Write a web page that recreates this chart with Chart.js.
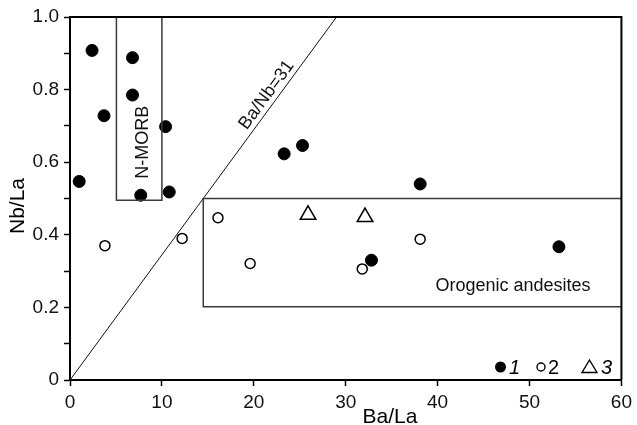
<!DOCTYPE html>
<html><head><meta charset="utf-8">
<script src="https://cdn.jsdelivr.net/npm/chart.js@4.4.0/dist/chart.umd.min.js"></script>
<style>html,body{margin:0;padding:0;background:#fff}</style>
</head><body>
<canvas id="c" width="637" height="425"></canvas>
<script>
// ---- data ----
const group1 = [ // filled circles
  {x:2.4,y:0.908},{x:3.7,y:0.728},{x:6.8,y:0.888},{x:6.8,y:0.785},
  {x:10.4,y:0.698},{x:1.0,y:0.547},{x:7.7,y:0.509},{x:10.8,y:0.518},
  {x:23.3,y:0.623},{x:25.3,y:0.646},{x:38.1,y:0.540},{x:32.8,y:0.330},
  {x:53.2,y:0.367}
];
const group2 = [ // open circles
  {x:3.8,y:0.370},{x:12.2,y:0.390},{x:16.1,y:0.447},{x:19.6,y:0.321},
  {x:31.8,y:0.306},{x:38.1,y:0.388}
];
const group3 = [ // triangles
  {x:25.9,y:0.455},{x:32.1,y:0.449}
];
const nmorbBox = [{x:5.05,y:1.0},{x:5.05,y:0.495},{x:10.0,y:0.495},{x:10.0,y:1.0}];
const orogenicBox = [{x:60,y:0.50},{x:14.5,y:0.50},{x:14.5,y:0.202},{x:60,y:0.202}];
const baNbLine = [{x:0,y:0},{x:29.0,y:1.0}];
const xTicks = [0,10,20,30,40,50,60];
const yTicks = [0,0.2,0.4,0.6,0.8,1.0];
const yTickLabels = ['0','0.2','0.4','0.6','0.8','1.0'];
const legendLabels = ['1','2','3'];
const xTitle = 'Ba/La', yTitle = 'Nb/La';

const FONT = '"Liberation Sans", Arial, sans-serif';

const overlay = {
  id:'overlay',
  afterDatasetsDraw(chart){
    const {ctx, chartArea:a, scales:{x,y}} = chart;
    ctx.save();
    // top & right frame
    ctx.strokeStyle='#000'; ctx.lineWidth=2;
    ctx.beginPath();
    ctx.moveTo(a.left, a.top); ctx.lineTo(a.right, a.top); ctx.lineTo(a.right, a.bottom);
    ctx.stroke();
    ctx.fillStyle='#111';
    ctx.textAlign='center'; ctx.textBaseline='middle';
    // Orogenic andesites
    ctx.font='18px '+FONT;
    ctx.fillText('Orogenic andesites', x.getPixelForValue(48.2), y.getPixelForValue(0.259));
    // N-MORB
    ctx.save();
    ctx.translate(x.getPixelForValue(7.9), y.getPixelForValue(0.655));
    ctx.rotate(-Math.PI/2);
    ctx.fillText('N-MORB',0,0);
    ctx.restore();
    // Ba/Nb=31
    const x0=x.getPixelForValue(0), y0=y.getPixelForValue(0), x1=x.getPixelForValue(29), y1=y.getPixelForValue(1);
    const ang=Math.atan2(y1-y0, x1-x0);
    ctx.save();
    ctx.translate(x.getPixelForValue(21.4), y.getPixelForValue(0.785));
    ctx.rotate(ang);
    ctx.fillText('Ba/Nb=31',0,0);
    ctx.restore();
    // axis titles
    ctx.fillStyle='#000';
    ctx.font='21px '+FONT;
    ctx.fillText(xTitle, 390, 417);
    ctx.save();
    ctx.translate(18, 206);
    ctx.rotate(-Math.PI/2);
    ctx.fillText(yTitle,0,0);
    ctx.restore();
    // legend
    const ly=367;
    ctx.fillStyle='#000'; ctx.strokeStyle='#000';
    ctx.beginPath(); ctx.arc(500.5,ly,5.5,0,Math.PI*2); ctx.fill();
    ctx.lineWidth=1.4;
    ctx.fillStyle='#fff';
    ctx.beginPath(); ctx.arc(541,ly,4,0,Math.PI*2); ctx.fill(); ctx.stroke();
    ctx.beginPath(); ctx.moveTo(589.5,ly-7); ctx.lineTo(597,ly+5.5); ctx.lineTo(582,ly+5.5); ctx.closePath(); ctx.fill(); ctx.stroke();
    ctx.fillStyle='#000'; ctx.textAlign='left';
    ctx.font='italic 20px '+FONT; ctx.fillText(legendLabels[0], 509, ly+1);
    ctx.font='20px '+FONT; ctx.fillText(legendLabels[1], 548, ly+1);
    ctx.font='italic 20px '+FONT; ctx.fillText(legendLabels[2], 601, ly+1);
    ctx.restore();
  }
};

const lineDs = (data)=>({type:'line', data, showLine:true, pointRadius:0, borderColor:'#3a3a3a', borderWidth:1.5, fill:false, tension:0});

new Chart(document.getElementById('c'), {
  type:'scatter',
  data:{datasets:[
    lineDs(nmorbBox),
    lineDs(orogenicBox),
    Object.assign(lineDs(baNbLine),{borderColor:'#111',borderWidth:1}),
    {data:group1, pointStyle:'circle', pointRadius:6, backgroundColor:'#000', borderColor:'#000', borderWidth:1},
    {data:group2, pointStyle:'circle', pointRadius:5, backgroundColor:'#fff', borderColor:'#000', borderWidth:1.5},
    {data:group3, pointStyle:'triangle', pointRadius:9, backgroundColor:'#fff', borderColor:'#000', borderWidth:1.5}
  ]},
  options:{
    responsive:false, animation:false, events:[],
    layout:{padding:{top:17,right:14,left:0,bottom:0}},
    plugins:{legend:{display:false}, tooltip:{enabled:false}},
    scales:{
      x:{type:'linear', min:0, max:60,
        afterFit(s){s.height=45;},
        afterBuildTicks(s){s.ticks = xTicks.map(v=>({value:v}));},
        ticks:{color:'#111', font:{family:FONT,size:19}, padding:5, maxRotation:0, callback:v=>String(v)},
        grid:{drawOnChartArea:false, drawTicks:true, tickLength:6, tickColor:'#000', tickWidth:1.5},
        border:{display:true, color:'#000', width:2}
      },
      y:{type:'linear', min:0, max:1,
        afterFit(s){s.width=70;},
        afterBuildTicks(s){const t=[]; for(let i=0;i<=10;i++) t.push({value:i/10}); s.ticks=t;},
        ticks:{color:'#111', font:{family:FONT,size:19}, padding:5,
          callback:v=>{const i=yTicks.findIndex(t=>Math.abs(t-v)<1e-6); return i>=0?yTickLabels[i]:'';}},
        grid:{drawOnChartArea:false, drawTicks:true, tickLength:6, tickColor:'#000', tickWidth:1.5},
        border:{display:true, color:'#000', width:2}
      }
    }
  },
  plugins:[overlay]
});
</script>
</body></html>
